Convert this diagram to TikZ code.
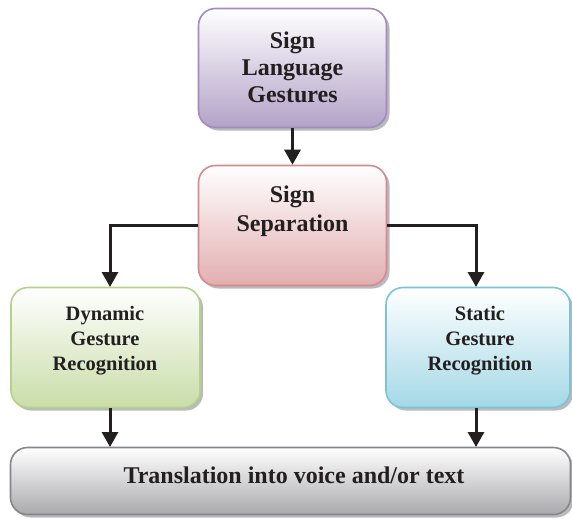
\documentclass[tikz,border=0pt]{standalone}
\usepackage{fontspec}
\setmainfont{Liberation Serif}
\usetikzlibrary{shadows,arrows.meta}
\definecolor{purB}{HTML}{B3A2C7}
\definecolor{purD}{HTML}{A08CC0}
\definecolor{pinkB}{HTML}{E2AEB0}
\definecolor{pinkD}{HTML}{D48A8E}
\definecolor{grnB}{HTML}{C9DDA8}
\definecolor{grnD}{HTML}{B5D18C}
\definecolor{bluB}{HTML}{A4D8E6}
\definecolor{bluD}{HTML}{78C4DA}
\definecolor{gryB}{HTML}{A9A9AD}
\definecolor{gryD}{HTML}{85858B}
\definecolor{ink}{HTML}{231F20}
\tikzset{
  box/.style={rounded corners=17pt, line width=1.6pt,
    drop shadow={shadow xshift=3pt, shadow yshift=-3pt, opacity=0.45, fill=black!60}},
  big/.style={font=\bfseries\fontsize{24}{27}\selectfont, text=ink, align=center},
  mid/.style={font=\bfseries\fontsize{20.5}{25}\selectfont, text=ink, align=center},
  arr/.style={line width=3pt, ink, -{Triangle[length=15pt,width=16pt]}},
}
\begin{document}
\begin{tikzpicture}[x=1pt,y=-1pt]
\useasboundingbox (0,0) rectangle (572,519);
\node[box, draw=purD, top color=white, bottom color=purB, minimum width=188pt, minimum height=119pt] (slg) at (292.5,68) {};
\node[big] (slgt) at (292.5,67) {Sign\\Language\\Gestures};
\node[box, draw=pinkD, top color=white, bottom color=pinkB, minimum width=188pt, minimum height=120pt] (ss) at (292.5,225.5) {};
\node[big, font=\bfseries\fontsize{24}{29}\selectfont] (sst) at (292.5,211) {Sign\\Separation};
\node[box, draw=grnD, top color=white, bottom color=grnB, minimum width=189pt, minimum height=120pt] (dg) at (105.5,347.5) {};
\node[mid] (dgt) at (105,341) {Dynamic\\Gesture\\Recognition};
\node[box, draw=bluD, top color=white, bottom color=bluB, minimum width=184pt, minimum height=120pt] (sg) at (478,347.5) {};
\node[mid] (sgt) at (480,341) {Static\\Gesture\\Recognition};
\node[box, draw=gryD, top color=white, bottom color=gryB, minimum width=560pt, minimum height=67pt] (tr) at (290.5,481) {};
\node[big] (trt) at (294,475) {Translation into voice and/or text};
\draw[arr] (slg.south) -- (ss.north);
\draw[arr] (ss.west |- 0,225) -| (110,287) coordinate (dtop);
\draw[arr] (ss.east |- 0,225) -| (476,287) coordinate (stop);
\draw[arr] (110,408) -- (110,447);
\draw[arr] (476,408) -- (476,447);
\end{tikzpicture}
\end{document}
